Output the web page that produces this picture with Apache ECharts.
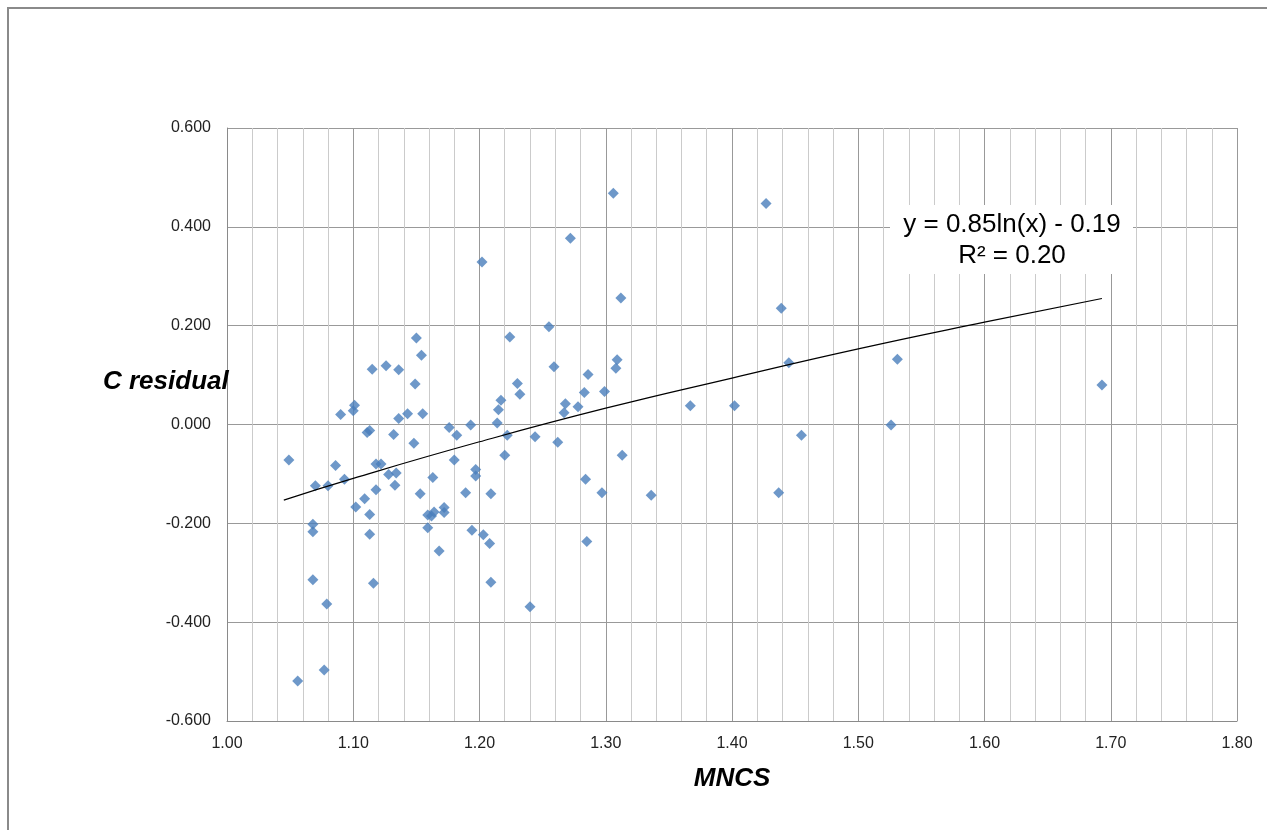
<!DOCTYPE html>
<html>
<head>
<meta charset="utf-8">
<script src="https://cdn.jsdelivr.net/npm/echarts@6/dist/echarts.min.js"></script>
<style>
html,body{margin:0;padding:0;background:#fff;}
#c{width:1267px;height:830px;}
</style>
</head>
<body>
<div id="c"></div>
<script>
// MNCS values (x) and C residual values (y)
var mncs = [
1.306,1.272,1.202,1.312,1.255,1.150,1.224,1.154,1.309,1.308,
1.115,1.126,1.136,1.259,1.149,1.230,1.232,1.286,1.283,1.299,
1.217,1.215,1.268,1.267,1.278,1.090,1.101,1.100,1.136,1.143,
1.155,1.214,1.193,1.176,
1.111,1.113,1.132,1.148,1.182,1.222,1.244,1.262,1.313,1.220,
1.049,1.180,1.086,1.118,1.122,1.093,1.070,1.080,1.128,1.134,
1.133,1.118,1.109,1.102,1.113,1.153,1.163,1.159,1.162,1.164,
1.172,1.172,1.189,1.197,1.197,1.209,1.068,1.068,1.113,1.159,
1.194,1.203,1.208,1.168,1.284,1.297,1.285,1.068,1.116,1.209,
1.079,1.240,1.077,1.056,
1.427,1.439,1.445,1.531,1.367,1.402,1.526,1.455,1.336,1.437,
1.693
];
var residual = [
0.468,0.377,0.329,0.256,0.198,0.175,0.177,0.140,0.131,0.114,
0.112,0.119,0.111,0.117,0.082,0.083,0.061,0.101,0.065,0.067,
0.049,0.030,0.042,0.024,0.036,0.020,0.039,0.028,0.012,0.022,
0.022,0.003,-0.001,-0.006,
-0.016,-0.012,-0.020,-0.038,-0.022,-0.022,-0.025,-0.036,-0.062,-0.062,
-0.072,-0.072,-0.083,-0.080,-0.080,-0.111,-0.124,-0.124,-0.101,-0.098,
-0.123,-0.132,-0.150,-0.167,-0.182,-0.140,-0.107,-0.183,-0.185,-0.177,
-0.168,-0.178,-0.138,-0.091,-0.104,-0.140,-0.202,-0.217,-0.222,-0.209,
-0.214,-0.223,-0.241,-0.256,-0.111,-0.138,-0.237,-0.314,-0.321,-0.319,
-0.363,-0.369,-0.497,-0.519,
0.447,0.235,0.125,0.132,0.038,0.038,-0.001,-0.022,-0.143,-0.138,
0.080
];
// Trendline points
var trendX = [1.045,1.10,1.20,1.30,1.40,1.50,1.60,1.693];
var trendY = [-0.153,-0.109,-0.035,0.033,0.094,0.153,0.207,0.255];
var eqLines = ['y = 0.85ln(x) - 0.19', 'R\u00b2 = 0.20'];

var pts = mncs.map(function(v,i){return [v, residual[i]];});
var tl = trendX.map(function(v,i){return [v, trendY[i]];});
var FF = "'Liberation Sans', Arial, sans-serif";

var chart = echarts.init(document.getElementById('c'), null, {renderer:'canvas'});
chart.setOption({
  animation:false,
  backgroundColor:'#fff',
  grid:{left:227, top:128, width:1010, height:593, containLabel:false},
  xAxis:{
    type:'value', min:1.0, max:1.8, interval:0.1,
    axisLine:{show:true, onZero:false, lineStyle:{color:'#8a8a8a', width:1}},
    axisTick:{show:false},
    axisLabel:{margin:15, color:'#222', fontSize:16, fontFamily:FF,
      formatter:function(v){return v.toFixed(2);}},
    splitLine:{show:true, lineStyle:{color:'#999', width:1}},
    minorTick:{show:true, splitNumber:5, length:0},
    minorSplitLine:{show:true, lineStyle:{color:'#cbcbcb', width:1}},
    name:'MNCS', nameLocation:'middle', nameGap:45,
    nameTextStyle:{fontSize:26, fontWeight:'bold', fontStyle:'italic', color:'#000', fontFamily:FF}
  },
  yAxis:{
    type:'value', min:-0.6, max:0.6, interval:0.2,
    axisLine:{show:true, onZero:false, lineStyle:{color:'#8a8a8a', width:1}},
    axisTick:{show:false},
    axisLabel:{margin:16, color:'#222', fontSize:16, fontFamily:FF,
      formatter:function(v){return v.toFixed(3);}},
    splitLine:{show:true, lineStyle:{color:'#999', width:1}}
  },
  graphic:[
    {type:'rect', shape:{x:8, y:8, width:1300, height:900},
      style:{fill:'none', stroke:'#8a8a8a', lineWidth:2}, z:-10, silent:true},
    {type:'text', left:103, top:369, z:100,
      style:{text:'C residual', fontSize:26, fontWeight:'bold', fontStyle:'italic', fill:'#000', fontFamily:FF}},
    {type:'rect', shape:{x:890, y:205, width:243, height:69}, style:{fill:'#fff'}, z:50},
    {type:'text', x:1012, y:240, z:60,
      style:{text:eqLines.join('\n'), fontSize:26, lineHeight:31, fill:'#000', fontFamily:FF,
        align:'center', verticalAlign:'middle'}}
  ],
  series:[
    {type:'scatter', data:pts, symbol:'diamond', symbolSize:11,
      itemStyle:{color:'#4a7ebb'}, z:3},
    {type:'line', data:tl, smooth:true, showSymbol:false,
      lineStyle:{color:'#000', width:1.2}, z:4}
  ]
});
</script>
</body>
</html>
